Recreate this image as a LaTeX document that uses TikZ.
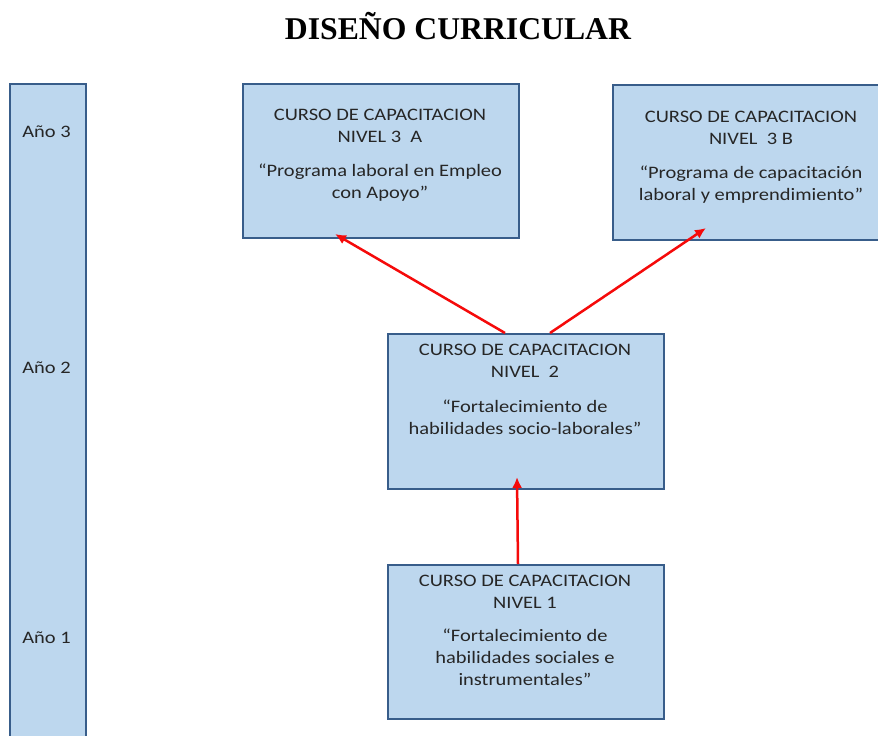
\documentclass[tikz,border=0pt]{standalone}
\usepackage{fontspec}
\setmainfont{Carlito}[FakeStretch=1.17]
\newfontfamily\titlefont{Liberation Serif}
\usetikzlibrary{arrows.meta,calc}
\definecolor{boxfill}{RGB}{189,215,238}
\definecolor{boxline}{RGB}{56,93,138}
\definecolor{arrred}{RGB}{245,10,10}
\begin{document}
\begin{tikzpicture}[x=1pt,y=-1pt,
  box/.style={draw=boxline, fill=boxfill, line width=2pt, inner sep=0, anchor=north west},
  lbl/.style={align=center, font=\fontsize{17.5}{22}\selectfont, inner sep=0, text=black!85},
  conn/.style={draw=arrred, line width=2.5pt, -{Latex[length=11pt,width=10pt]}}]
\useasboundingbox (0,0) rectangle (878,736);
\node[font=\titlefont\bfseries\fontsize{31.7}{32}\selectfont, anchor=base, inner sep=0] (title) at (458,39) {DISEÑO CURRICULAR};
% year bar
\node[box, minimum width=76pt, minimum height=670pt] (bar) at (9,83) {};
\node[lbl, anchor=base] (y3) at (46.5,137.5) {Año 3};
\node[lbl, anchor=base] (y2) at (46.5,373.5) {Año 2};
\node[lbl, anchor=base] (y1) at (46.5,643.5) {Año 1};
% boxes
\node[box, minimum width=276pt, minimum height=154pt] (b3a) at (242,83) {};
\node[box, minimum width=276pt, minimum height=155pt] (b3b) at (612,84) {};
\node[box, minimum width=276pt, minimum height=155pt] (b2) at (387,333) {};
\node[box, minimum width=276pt, minimum height=154pt] (b1) at (387,564) {};
% texts
\node[lbl, anchor=north] (t3a) at (380,108.5) {CURSO DE CAPACITACION\\NIVEL 3\ \ A\\[12pt]“Programa laboral en Empleo\\con Apoyo”};
\node[lbl, anchor=north] (t3b) at (751,110.5) {CURSO DE CAPACITACION\\NIVEL\ \ 3 B\\[12pt]“Programa de capacitación\\laboral y emprendimiento”};
\node[lbl, anchor=north] (t2) at (525,343.5) {CURSO DE CAPACITACION\\NIVEL\ \ 2\\[13pt]“Fortalecimiento de\\habilidades socio-laborales”};
\node[lbl, anchor=north] (t1) at (525,574.5) {CURSO DE CAPACITACION\\NIVEL 1\\[11pt]“Fortalecimiento de\\habilidades sociales e\\instrumentales”};
% connectors
\draw[conn] ($(b2.north west)+(118,0)$) -- ($(b3a.south west)+(93,-5)$);
\draw[conn] ($(b2.north west)+(163,0)$) -- ($(b3b.south west)+(94,-13)$);
\draw[conn] ($(b1.north west)+(131,0)$) -- ($(b2.south west)+(130,-13)$);
\end{tikzpicture}
\end{document}
